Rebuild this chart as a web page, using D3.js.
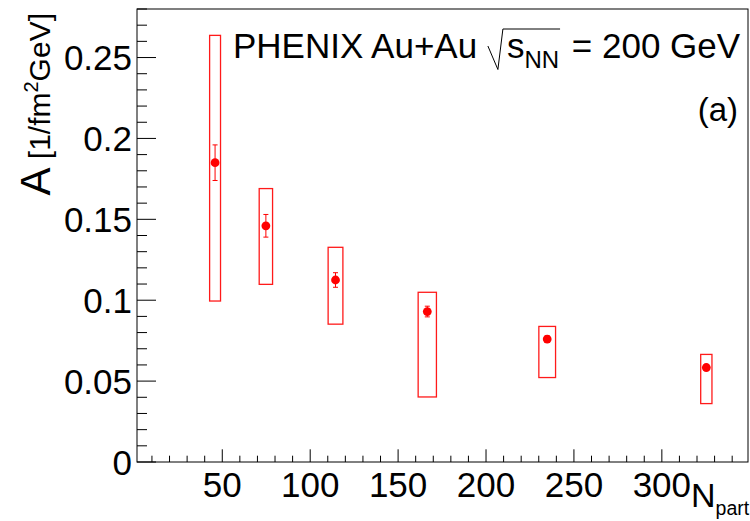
<!DOCTYPE html>
<html>
<head>
<meta charset="utf-8">
<script src="https://cdn.jsdelivr.net/npm/d3@7"></script>
<style>
  html, body { margin: 0; padding: 0; background: #fff; }
  svg { display: block; font-family: "Liberation Sans", Arial, Helvetica, sans-serif; }
</style>
</head>
<body>
<div id="chart"></div>
<script>
// ── Data ──
const npart    = [45.9, 74.8, 114.4, 166.6, 234.8, 325.3];
const npartErr = [3.1, 3.8, 4.2, 5.2, 4.75, 3.2];      // half-width of sys boxes
const aVal     = [0.185, 0.146, 0.1125, 0.093, 0.076, 0.0584];
const statErr  = [0.011, 0.007, 0.0045, 0.0033, 0.002, 0.0015];
const sysLow   = [0.0995, 0.1098, 0.0852, 0.0402, 0.0522, 0.0361];
const sysHigh  = [0.2637, 0.169, 0.1327, 0.1049, 0.0838, 0.0665];

const xDomain     = [1.5, 349];
const yDomain     = [0, 0.28];
const xMajorTicks = [50, 100, 150, 200, 250, 300];
const yMajorTicks = [0, 0.05, 0.1, 0.15, 0.2, 0.25];

const points = npart.map((n, i) => ({
  n, ne: npartErr[i], a: aVal[i], se: statErr[i], lo: sysLow[i], hi: sysHigh[i]
}));

// ── Layout ──
const W = 750, H = 521;
const frame = { left: 137, right: 748, top: 9, bottom: 462 };

const svg = d3.select('#chart').append('svg')
  .attr('width', W).attr('height', H);

const x = d3.scaleLinear().domain(xDomain).range([frame.left, frame.right]);
const y = d3.scaleLinear().domain(yDomain).range([frame.bottom, frame.top]);

// Frame
svg.append('rect')
  .attr('x', frame.left).attr('y', frame.top)
  .attr('width', frame.right - frame.left).attr('height', frame.bottom - frame.top)
  .attr('fill', 'none').attr('stroke', '#000').attr('stroke-width', 1);

// ── X axis ticks (ROOT style: ticks point inward) ──
const xMinor = d3.range(10, 350, 10).filter(v => v >= xDomain[0] && v <= xDomain[1]);
svg.append('g').selectAll('line')
  .data(xMinor)
  .join('line')
  .attr('x1', d => x(d)).attr('x2', d => x(d))
  .attr('y1', frame.bottom)
  .attr('y2', d => frame.bottom - (d % 50 === 0 ? 12.7 : 6.3))
  .attr('stroke', '#000').attr('stroke-width', 1);

svg.append('g').selectAll('text')
  .data(xMajorTicks)
  .join('text')
  .attr('x', d => x(d)).attr('y', 496.5)
  .attr('text-anchor', 'middle')
  .attr('font-size', 35)
  .text(d => d);

// ── Y axis ticks ──
const yMinor = d3.range(0, 29).map(i => i / 100).filter(v => v <= yDomain[1] + 1e-9);
svg.append('g').selectAll('line')
  .data(yMinor)
  .join('line')
  .attr('y1', d => y(d)).attr('y2', d => y(d))
  .attr('x1', frame.left)
  .attr('x2', (d, i) => frame.left + (i % 5 === 0 ? 19 : 10))
  .attr('stroke', '#000').attr('stroke-width', 1);

svg.append('g').selectAll('text')
  .data(yMajorTicks)
  .join('text')
  .attr('x', 132).attr('y', d => y(d) + 12.8)
  .attr('text-anchor', 'end')
  .attr('font-size', 35)
  .text(d => d3.format('~g')(d));

// ── Axis titles ──
const xt = svg.append('text').attr('x', 691).attr('y', 507).attr('font-size', 34);
xt.append('tspan').text('N');
xt.append('tspan').attr('font-size', 19.5).attr('dy', 8).text('part');

const yt = svg.append('text')
  .attr('transform', 'translate(50,13) rotate(-90)')
  .attr('text-anchor', 'end');
yt.append('tspan').attr('font-size', 42).text('A');
yt.append('tspan').attr('font-size', 30).text(' [1/fm');
yt.append('tspan').attr('font-size', 20).attr('dy', -12).text('2');
yt.append('tspan').attr('font-size', 30).attr('dy', 12).text('GeV]');

// ── Systematic boxes ──
svg.append('g').selectAll('rect')
  .data(points)
  .join('rect')
  .attr('x', d => x(d.n - d.ne))
  .attr('width', d => x(d.n + d.ne) - x(d.n - d.ne))
  .attr('y', d => y(d.hi))
  .attr('height', d => y(d.lo) - y(d.hi))
  .attr('fill', 'none').attr('stroke', '#ff1a1a').attr('stroke-width', 1.3);

// ── Statistical error bars ──
const eb = svg.append('g').attr('stroke', '#ff0000').attr('stroke-width', 1);
points.forEach(d => {
  eb.append('line')
    .attr('x1', x(d.n)).attr('x2', x(d.n))
    .attr('y1', y(d.a + d.se)).attr('y2', y(d.a - d.se));
  [d.a + d.se, d.a - d.se].forEach(v => {
    eb.append('line')
      .attr('x1', x(d.n) - 2.5).attr('x2', x(d.n) + 2.5)
      .attr('y1', y(v)).attr('y2', y(v));
  });
});

// ── Markers ──
svg.append('g').selectAll('circle')
  .data(points)
  .join('circle')
  .attr('cx', d => x(d.n)).attr('cy', d => y(d.a))
  .attr('r', 4.4)
  .attr('fill', '#ff0000');

// ── Header text: PHENIX Au+Au sqrt(s_NN) = 200 GeV ──
const hdr = svg.append('g');
const base = 58;
let cx = 233;
function seg(str, size, dy) {
  const t = hdr.append('text')
    .attr('x', cx).attr('y', base + (dy || 0))
    .attr('font-size', size)
    .attr('xml:space', 'preserve')
    .text(str);
  cx += t.node().getComputedTextLength();
  return t;
}
seg('PHENIX Au+Au ', 35);
const r0 = cx;
cx += 20;
seg('s', 35);
seg('NN', 24, 10);
const r1 = cx + 1;
hdr.append('path')
  .attr('d', `M${r0 + 1},${base - 12} L${r0 + 11},${base + 11.5} L${r0 + 16},${base - 29} L${r1},${base - 29}`)
  .attr('fill', 'none').attr('stroke', '#000').attr('stroke-width', 1);
cx += 3;
seg(' = 200 GeV', 35);

svg.append('text')
  .attr('x', 738).attr('y', 121)
  .attr('text-anchor', 'end')
  .attr('font-size', 33)
  .text('(a)');
</script>
</body>
</html>
